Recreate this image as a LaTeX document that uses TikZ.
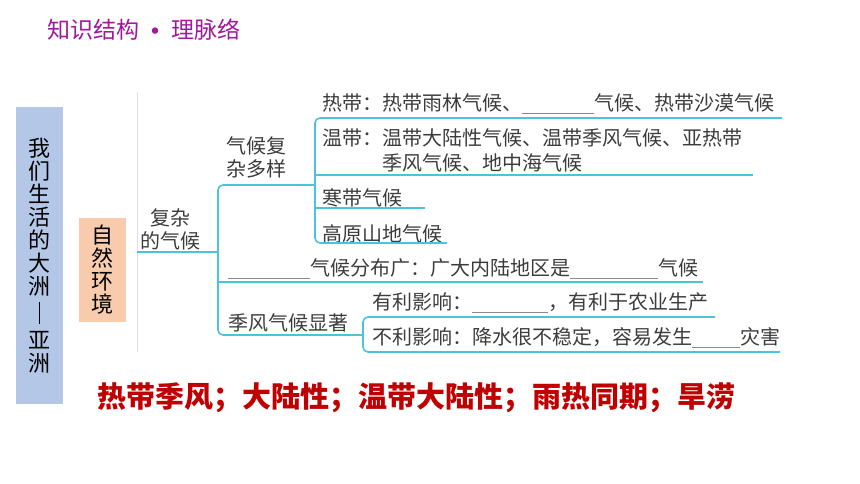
\documentclass[tikz,border=0pt]{standalone}
\usepackage{fontspec}
\setmainfont{Noto Sans CJK SC}
\usetikzlibrary{positioning}
\definecolor{linecyan}{HTML}{4CC3DC}
\definecolor{textgray}{HTML}{3C3C3C}
\definecolor{blankgray}{HTML}{8A8A8A}
\definecolor{titlepurple}{HTML}{A0189C}
\definecolor{answerred}{HTML}{C00000}
\definecolor{asiablue}{HTML}{B4C7E7}
\definecolor{naturepeach}{HTML}{F8CBAD}
\newcommand{\blank}[1]{{\color{blankgray}\rule[-3pt]{#1pt}{0.8pt}}}

\begin{document}
\begin{tikzpicture}[x=1pt,y=-1pt,font=\fontsize{20}{23}\selectfont]
\tikzstyle{branch line}=[draw=linecyan,line width=1.6pt,rounded corners=5pt]
\tikzstyle{leaf}=[anchor=west,inner sep=0pt,text=textgray]
\tikzstyle{side box}=[inner sep=0pt,align=center,font=\fontsize{22}{23}\selectfont,minimum width=47pt]
\useasboundingbox (0,0) rectangle (860,484);
\node[leaf,text=titlepurple,font=\fontsize{23}{23}\selectfont] (title) at (47,30.5) {知识结构\hspace{1pt}\raisebox{-3.5pt}{\fontsize{30}{23}\selectfont •}\hspace{1pt}理脉络};
\node[side box,fill=asiablue,minimum height=297pt] (asia) at (39.5,255.5) {我\\们\\生\\活\\的\\大\\洲\\[4pt]\rule[-3pt]{0.8pt}{22pt}\\[4pt]亚\\洲};
\node[side box,fill=naturepeach,minimum height=104pt] (nature) at (102.5,270) {自\\然\\环\\境};
\draw[gray!25,line width=0.8pt] (137,92) -- (137,352);
\node[inner sep=0pt,align=center,text=textgray] (fuza) at (170,229.5) {复杂\\的气候};
\node[inner sep=0pt,align=center,text=textgray] (duoyang) at (256,157.5) {气候复\\杂多样};
\node[leaf] (redai) at (322,104) {热带：热带雨林气候、\blank{72}气候、热带沙漠气候};
\node[leaf,align=left,font=\fontsize{20}{25}\selectfont] (wendai) at (322,150.5) {温带：温带大陆性气候、温带季风气候、亚热带\\\hspace{60pt}季风气候、地中海气候};
\node[leaf] (handai) at (322,198) {寒带气候};
\node[leaf] (gaoyuan) at (322,234) {高原山地气候};
\node[leaf] (fenbu) at (228,269) {\blank{82}气候分布广：广大内陆地区是\blank{88}气候};
\node[leaf] (jifeng) at (228,323) {季风气候显著};
\node[leaf] (youli) at (372,303) {有利影响：\blank{76}，有利于农业生产};
\node[leaf] (buli) at (372,338) {不利影响：降水很不稳定，容易发生\blank{48}灾害};
\node[inner sep=0pt,text=answerred,font=\fontsize{29}{29}\selectfont\bfseries] (answer) at (416.5,397.5) {热带季风；大陆性；温带大陆性；雨热同期；旱涝};
\coordinate (root) at (137,252);
\coordinate (k1) at (218,252);
\coordinate (k1top) at (218,185);
\coordinate (k1bot) at (218,335);
\coordinate (k2) at (315,185);
\coordinate (k2top) at (315,118);
\coordinate (k2bot) at (315,243);
\coordinate (k3) at (363,335);
\coordinate (k3top) at (363,317);
\coordinate (k3bot) at (363,352);
\coordinate (redai end) at (782,118);
\coordinate (wendai end) at (753,175);
\coordinate (handai end) at (425,208);
\coordinate (gaoyuan end) at (447,243);
\coordinate (fenbu end) at (703,282);
\coordinate (youli end) at (715,317);
\coordinate (buli end) at (780,352);
\draw[branch line] (root) -- (k1);
\draw[branch line] (k2) -- (k1top) -- (k1bot) -- (k3);
\draw[branch line] (k1 |- fenbu end) -- (fenbu end);
\draw[branch line] (redai end) -- (k2top) -- (k2bot) -- (gaoyuan end);
\draw[branch line] (k2 |- wendai end) -- (wendai end);
\draw[branch line] (k2 |- handai end) -- (handai end);
\draw[branch line] (youli end) -- (k3top) -- (k3bot) -- (buli end);
\end{tikzpicture}
\end{document}
